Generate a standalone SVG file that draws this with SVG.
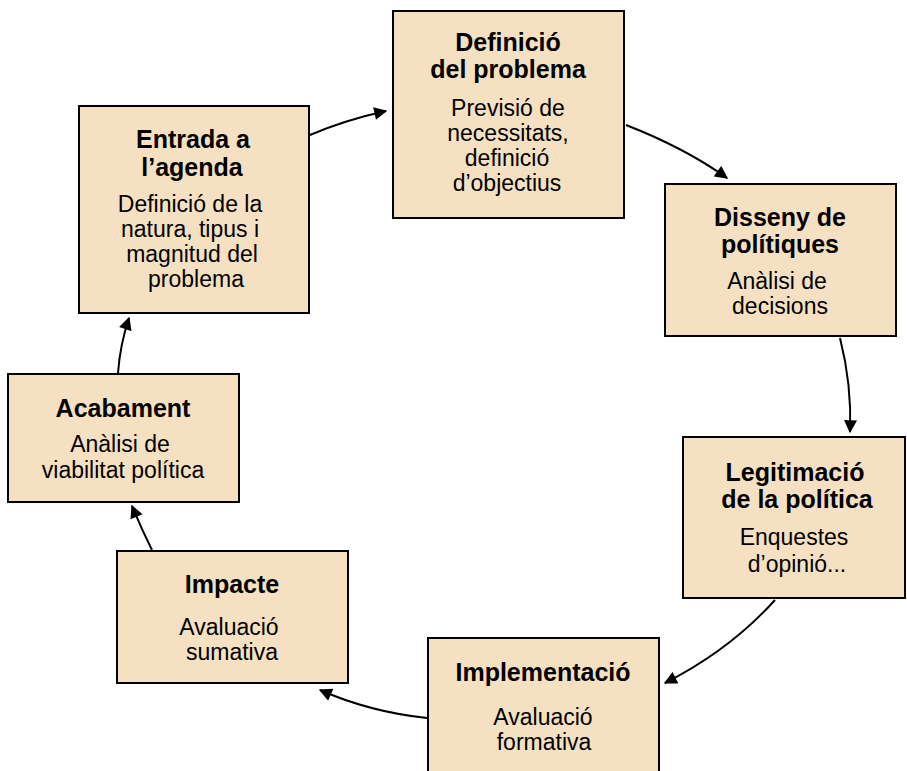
<svg xmlns="http://www.w3.org/2000/svg" width="907" height="771" viewBox="0 0 907 771">
<defs>
<marker id="ah" viewBox="0 0 10 10" refX="9" refY="5" markerWidth="14" markerHeight="13" markerUnits="userSpaceOnUse" orient="auto">
<path d="M0,0 L10,5 L0,10 z" fill="#000"/>
</marker>
<style>
.box{fill:#F5E1C1;stroke:#000;stroke-width:2}
.t{font-family:"Liberation Sans",Arial,sans-serif;font-size:25px;font-weight:bold;text-anchor:middle;fill:#000}
.b{font-family:"Liberation Sans",Arial,sans-serif;font-size:23px;text-anchor:middle;fill:#000}
.c{fill:none;stroke:#000;stroke-width:2;marker-end:url(#ah)}
</style>
</defs>
<rect width="907" height="771" fill="#fff"/>
<g id="connectors">
<path class="c" d="M310,135 Q345,120 386,111"/>
<path class="c" d="M626,125 Q685,148 727,178"/>
<path class="c" d="M840,338 Q852,385 850,432"/>
<path class="c" d="M775,600 Q730,650 665,683"/>
<path class="c" d="M427,718 Q370,712 320,690"/>
<path class="c" d="M152,550 Q142,530 132,506"/>
<path class="c" d="M118,373 Q120,345 129,318"/>
</g>
<g id="definicio">
<rect class="box" x="393" y="11" width="231" height="207"/>
<text class="t" x="508" y="51">Definició</text>
<text class="t" x="508" y="78">del problema</text>
<text class="b" x="508" y="116">Previsió de</text>
<text class="b" x="508" y="141">necessitats,</text>
<text class="b" x="507" y="166">definició</text>
<text class="b" x="507" y="191">d’objectius</text>
</g>
<g id="entrada">
<rect class="box" x="79" y="106" width="230" height="207"/>
<text class="t" x="193" y="148">Entrada a</text>
<text class="t" x="192" y="176">l’agenda</text>
<text class="b" x="190" y="212">Definició de la</text>
<text class="b" x="190" y="237">natura, tipus i</text>
<text class="b" x="192" y="262">magnitud del</text>
<text class="b" x="196" y="287">problema</text>
</g>
<g id="disseny">
<rect class="box" x="665" y="184" width="231" height="152"/>
<text class="t" x="780" y="226">Disseny de</text>
<text class="t" x="780" y="253">polítiques</text>
<text class="b" x="777" y="289">Anàlisi de</text>
<text class="b" x="780" y="314">decisions</text>
</g>
<g id="legitimacio">
<rect class="box" x="683" y="437" width="222" height="161"/>
<text class="t" x="795" y="481">Legitimació</text>
<text class="t" x="797" y="508">de la política</text>
<text class="b" x="794" y="545">Enquestes</text>
<text class="b" x="797" y="572">d’opinió...</text>
</g>
<g id="implementacio">
<rect class="box" x="428" y="638" width="231" height="140"/>
<text class="t" x="543" y="681">Implementació</text>
<text class="b" x="543" y="725">Avaluació</text>
<text class="b" x="544" y="750">formativa</text>
</g>
<g id="impacte">
<rect class="box" x="117" y="551" width="231" height="132"/>
<text class="t" x="232" y="593">Impacte</text>
<text class="b" x="229" y="635">Avaluació</text>
<text class="b" x="232" y="660">sumativa</text>
</g>
<g id="acabament">
<rect class="box" x="8" y="374" width="231" height="128"/>
<text class="t" x="123" y="417">Acabament</text>
<text class="b" x="120" y="452">Anàlisi de</text>
<text class="b" x="123" y="478">viabilitat política</text>
</g>
</svg>
